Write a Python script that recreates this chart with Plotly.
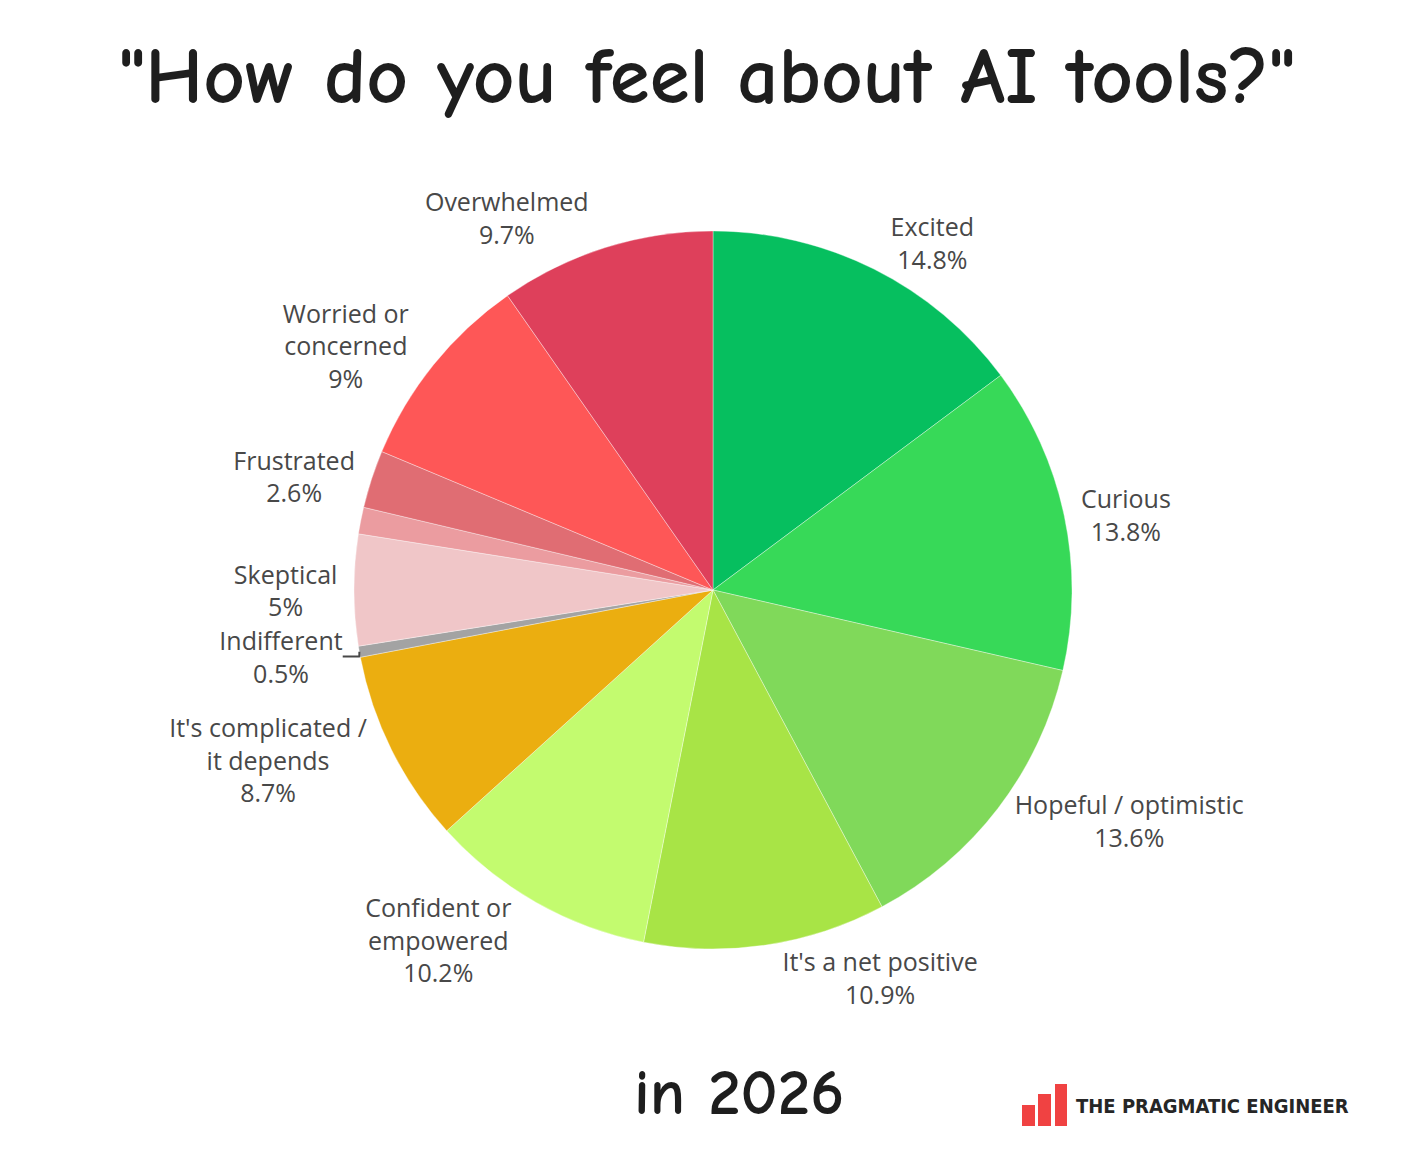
import plotly.graph_objects as go

labels = ["Excited", "Curious", "Hopeful / optimistic", "It's a net positive",
          "Confident or empowered", "It's complicated / it depends", "Indifferent",
          "Skeptical", "Other", "Frustrated", "Worried or concerned", "Overwhelmed"]
display = ["Excited", "Curious", "Hopeful / optimistic", "It's a net positive",
           "Confident or<br>empowered", "It's complicated /<br>it depends", "Indifferent",
           "Skeptical", "", "Frustrated", "Worried or<br>concerned", "Overwhelmed"]
values = [14.8, 13.8, 13.6, 10.9, 10.2, 8.7, 0.5, 5.0, 1.2, 2.6, 9.0, 9.7]
colors = ["#06bf5f", "#37d958", "#80d95a", "#a8e446", "#c3fb6f", "#ebae10",
          "#a3a3a3", "#f0c6c8", "#eb9ca0", "#e06d73", "#fe5757", "#de405b"]

texts = [(f"{d}<br>{v:g}%" if d else "") for d, v in zip(display, values)]

W, H = 1424, 1174
OFF = 8  # page body margin


def px(x):
    return (x - OFF) / W


def py(y):
    return 1 - (y - OFF) / H


cx, cy, r = 713, 590, 359

fig = go.Figure(go.Pie(
    labels=labels, values=values, text=texts, textinfo="text",
    textposition="outside", sort=False, direction="clockwise", rotation=0,
    marker=dict(colors=colors, line=dict(color="rgba(255,255,255,0.6)", width=0.6)),
    textfont=dict(family="Open Sans, Lato, sans-serif", size=25, color="#484848"),
    domain=dict(x=[px(cx - r), px(cx + r)], y=[py(cy + r), py(cy - r)]),
    showlegend=False, hoverinfo="label+value",
))

hand = "Comic Neue, Comic Sans MS, Noto Sans, sans-serif"
fig.add_annotation(x=px(707), y=py(76), xref="paper", yref="paper",
                   xanchor="center", yanchor="middle",
                   text='<b>"How do you feel about AI tools?"</b>', showarrow=False,
                   font=dict(family=hand, size=81, color="#1e1e1e"))
fig.add_annotation(x=px(739), y=py(1093), xref="paper", yref="paper",
                   xanchor="center", yanchor="middle",
                   text="<b>in 2026</b>", showarrow=False,
                   font=dict(family=hand, size=65, color="#1e1e1e"))
fig.add_annotation(x=px(1074), y=py(1106), xref="paper", yref="paper",
                   xanchor="left", yanchor="middle",
                   text="<b>THE PRAGMATIC ENGINEER</b>", showarrow=False,
                   font=dict(family="DejaVu Sans Condensed, Liberation Sans Narrow, Liberation Sans, sans-serif",
                             size=20, color="#262626"))

bars = [(1022, 1035, 1105), (1038, 1051, 1094), (1055, 1067, 1084)]
for x0, x1, y0 in bars:
    fig.add_shape(type="rect", xref="paper", yref="paper",
                  x0=px(x0), x1=px(x1), y0=py(1126), y1=py(y0),
                  fillcolor="#f04242", line=dict(width=0))

fig.update_layout(width=W, height=H, margin=dict(l=0, r=0, t=0, b=0),
                  paper_bgcolor="white", plot_bgcolor="white")
fig.write_html("out.html")
